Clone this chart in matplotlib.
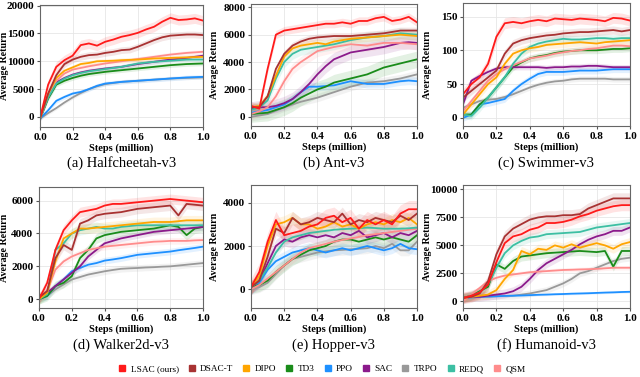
import numpy as np
import matplotlib
matplotlib.use("Agg")
import matplotlib.pyplot as plt
from matplotlib.lines import Line2D

plt.rcParams['font.family'] = ['Liberation Serif', 'DejaVu Serif']

methods = ["LSAC (ours)", "DSAC-T", "DIPO", "TD3", "PPO", "SAC", "TRPO", "REDQ", "QSM"]
colors = ["#ff1a1a", "#a83232", "#ffa500", "#1a8c1a", "#1e90ff", "#8b1a8b", "#999999", "#3cbfa3", "#ff8c8c"]
# drawing order (back to front) - indices into methods
draw_order = [6, 4, 3, 5, 8, 7, 2, 1, 0]

steps = [0.0, 0.05, 0.1, 0.15, 0.2, 0.25, 0.3, 0.35, 0.4, 0.45, 0.5,
         0.55, 0.6, 0.65, 0.7, 0.75, 0.8, 0.85, 0.9, 0.95, 1.0]

titles = ["(a) Halfcheetah-v3", "(b) Ant-v3", "(c) Swimmer-v3",
          "(d) Walker2d-v3", "(e) Hopper-v3", "(f) Humanoid-v3"]

# ---------------- (a) Halfcheetah ----------------
hc_lsac  = [-200, 5800, 9000, 10200, 11000, 12900, 13200, 12800, 13500, 13900, 14400, 14700, 15100, 15700, 16200, 17100, 17800, 17400, 17500, 17700, 17300]
hc_dsact = [-200, 4200, 7500, 9500, 10300, 10800, 11100, 11200, 11500, 11700, 12000, 12100, 12600, 13200, 13800, 14300, 14600, 14700, 14800, 14800, 14700]
hc_dipo  = [-300, 4200, 7000, 8300, 8900, 9500, 9700, 10000, 10050, 10100, 10200, 10250, 10300, 10400, 10500, 10550, 10600, 10650, 10700, 10750, 10800]
hc_td3   = [-300, 3300, 5800, 6500, 7000, 7400, 7700, 7900, 8100, 8250, 8400, 8550, 8700, 8850, 9000, 9150, 9300, 9400, 9500, 9550, 9600]
hc_ppo   = [-300, 1200, 2900, 3600, 4200, 4500, 5000, 5600, 6000, 6150, 6300, 6400, 6500, 6600, 6700, 6800, 6900, 7000, 7100, 7150, 7200]
hc_sac   = [-300, 3600, 6200, 7000, 7600, 8000, 8300, 8500, 8700, 8850, 9000, 9250, 9500, 9700, 9900, 10100, 10300, 10450, 10600, 10800, 11000]
hc_trpo  = [-300, 700, 1600, 2600, 3500, 4300, 5000, 5500, 5900, 6100, 6300, 6400, 6500, 6600, 6700, 6800, 6900, 6950, 7000, 7050, 7100]
hc_redq  = [-300, 3500, 6000, 6900, 7500, 7900, 8200, 8400, 8600, 8800, 9000, 9300, 9600, 9750, 9900, 10000, 10100, 10200, 10300, 10300, 10300]
hc_qsm   = [-300, 3800, 6500, 7800, 8500, 8800, 9100, 9350, 9600, 9800, 10000, 10200, 10400, 10600, 10800, 11000, 11200, 11350, 11500, 11600, 11700]

# ---------------- (b) Ant ----------------
ant_lsac  = [800, 600, 3500, 6000, 6300, 6400, 6500, 6600, 6700, 6800, 6800, 6900, 6800, 7000, 7000, 7200, 7300, 7000, 7100, 7300, 6900]
ant_dsact = [700, 700, 1500, 3500, 4600, 5200, 5500, 5700, 5800, 5850, 5900, 5900, 5900, 5950, 6000, 6050, 6100, 6200, 6300, 6300, 6300]
ant_dipo  = [700, 800, 1500, 3000, 4400, 5000, 5200, 5300, 5400, 5300, 5500, 5600, 5700, 5750, 5800, 5850, 5900, 5950, 6000, 5950, 5900]
ant_td3   = [200, 250, 300, 500, 700, 1000, 1400, 1700, 2000, 2200, 2500, 2650, 2800, 2950, 3100, 3350, 3600, 3750, 3900, 4050, 4200]
ant_ppo   = [300, 400, 500, 700, 900, 1300, 1800, 2200, 2200, 2250, 2300, 2450, 2600, 2500, 2400, 2400, 2400, 2500, 2600, 2650, 2600]
ant_sac   = [600, 700, 700, 800, 1000, 1300, 1800, 2400, 3100, 3700, 4200, 4450, 4700, 4800, 4900, 5000, 5100, 5250, 5400, 5450, 5400]
ant_trpo  = [0, 100, 200, 450, 700, 900, 1100, 1250, 1400, 1600, 1800, 2000, 2200, 2350, 2500, 2550, 2600, 2700, 2800, 2950, 3100]
ant_redq  = [500, 700, 1200, 2800, 4000, 4600, 4900, 5000, 5100, 5200, 5300, 5450, 5600, 5700, 5800, 5850, 5900, 6000, 6100, 6050, 6000]
ant_qsm   = [200, 400, 700, 1500, 2600, 3500, 4000, 4400, 4800, 4950, 5100, 5200, 5300, 5250, 5200, 5300, 5400, 5400, 5400, 5350, 5300]

# ---------------- (c) Swimmer ----------------
sw_lsac  = [35, 50, 60, 80, 120, 140, 142, 140, 143, 145, 143, 147, 146, 145, 147, 146, 145, 143, 148, 147, 144]
sw_dsact = [30, 40, 50, 60, 70, 95, 110, 115, 118, 120, 122, 123, 125, 126, 127, 127, 128, 129, 130, 128, 130]
sw_dipo  = [5, 20, 35, 50, 60, 80, 95, 100, 103, 105, 108, 109, 110, 111, 112, 111, 110, 112, 113, 114, 115]
sw_td3   = [5, 5, 20, 30, 45, 60, 75, 82, 88, 91, 93, 96, 98, 99, 100, 100, 100, 101, 102, 102, 103]
sw_ppo   = [0, 5, 20, 22, 25, 28, 40, 50, 58, 65, 68, 68, 68, 69, 70, 70, 70, 71, 72, 72, 72]
sw_sac   = [20, 55, 62, 68, 73, 75, 75, 75, 75, 75, 74, 75, 75, 76, 76, 77, 77, 76, 75, 75, 75]
sw_trpo  = [15, 20, 25, 27, 28, 31, 35, 40, 45, 49, 52, 54, 55, 57, 58, 58, 58, 58, 57, 57, 57]
sw_redq  = [5, 3, 15, 30, 45, 60, 80, 95, 105, 110, 113, 115, 117, 116, 116, 117, 118, 118, 117, 118, 118]
sw_qsm   = [10, 25, 40, 55, 65, 72, 78, 83, 88, 90, 92, 95, 97, 99, 100, 102, 103, 105, 107, 107, 106]

# ---------------- (d) Walker2d ----------------
wk_lsac  = [0, 1000, 3000, 4200, 4800, 5300, 5400, 5500, 5700, 5800, 5800, 5850, 5900, 5950, 6000, 6050, 6100, 6050, 6000, 5950, 5900]
wk_dsact = [100, 500, 2500, 3300, 3000, 4600, 4800, 5100, 5200, 5250, 5300, 5400, 5500, 5550, 5600, 5650, 5700, 5100, 5800, 5750, 5700]
wk_dipo  = [0, 400, 2300, 3700, 4000, 4300, 4300, 4350, 4400, 4450, 4500, 4550, 4600, 4650, 4700, 4700, 4700, 4750, 4800, 4800, 4800]
wk_td3   = [0, 200, 800, 1000, 1400, 2500, 3000, 3700, 3900, 4000, 4100, 4150, 4200, 4250, 4300, 4400, 4500, 4400, 3900, 4300, 4400]
wk_ppo   = [0, 200, 800, 1200, 1700, 1900, 2100, 2200, 2350, 2420, 2500, 2600, 2700, 2750, 2800, 2850, 2900, 2980, 3050, 3120, 3200]
wk_sac   = [200, 400, 800, 1200, 1600, 2000, 2600, 3000, 3400, 3550, 3700, 3800, 3900, 4000, 4100, 4150, 4200, 4250, 4300, 4350, 4400]
wk_trpo  = [0, 200, 600, 900, 1200, 1350, 1500, 1600, 1700, 1780, 1850, 1880, 1900, 1930, 1950, 1980, 2000, 2050, 2100, 2150, 2200]
wk_redq  = [0, 300, 3000, 3400, 4000, 4200, 4300, 4400, 4300, 4300, 4400, 4450, 4500, 4500, 4500, 4500, 4500, 4500, 4500, 4500, 4500]
wk_qsm   = [0, 500, 1800, 2300, 2600, 2800, 3000, 3100, 3200, 3250, 3300, 3350, 3400, 3450, 3500, 3520, 3550, 3550, 3550, 3580, 3600]

# ---------------- (e) Hopper ----------------
hp_lsac  = [100, 800, 2200, 3200, 2500, 2600, 2700, 2900, 3000, 3300, 3400, 3100, 3300, 2800, 3200, 3000, 3200, 3000, 3500, 3700, 3700]
hp_dsact = [100, 400, 1500, 2800, 2600, 3300, 3000, 3100, 3300, 3200, 3100, 3500, 3000, 3200, 3100, 3300, 3200, 3100, 3400, 3200, 3500]
hp_dipo  = [100, 600, 2000, 3000, 3100, 3300, 3000, 3000, 2800, 2900, 3100, 2900, 3000, 2800, 3000, 3100, 3000, 3200, 3100, 3300, 3000]
hp_td3   = [100, 200, 400, 800, 1100, 1400, 1600, 1800, 1900, 2000, 2200, 2300, 2300, 2200, 2300, 2400, 2300, 2400, 2300, 2200, 2500]
hp_ppo   = [0, 300, 900, 1300, 1500, 1700, 1800, 1900, 1800, 1700, 1800, 1900, 1800, 1900, 2000, 1900, 1800, 1900, 2100, 1900, 1850]
hp_sac   = [100, 400, 1200, 2000, 2300, 2200, 2400, 2500, 2400, 2500, 2400, 2600, 2500, 2700, 2400, 2500, 2600, 2400, 2600, 2500, 2700]
hp_trpo  = [0, 100, 300, 700, 1100, 1400, 1500, 1600, 1700, 1750, 1800, 1820, 1850, 1870, 1900, 2000, 1900, 2100, 1800, 1800, 2200]
hp_redq  = [100, 400, 1000, 1700, 2200, 2400, 2500, 2600, 2650, 2700, 2750, 2780, 2800, 2820, 2850, 2830, 2800, 2800, 2800, 2820, 2850]
hp_qsm   = [0, 200, 500, 800, 1100, 1400, 1700, 1900, 2000, 2100, 2200, 2280, 2350, 2420, 2500, 2550, 2600, 2650, 2700, 2750, 2800]

# ---------------- (f) Humanoid ----------------
hm_lsac  = [300, 500, 800, 1500, 3500, 5200, 5800, 6000, 6400, 6600, 7000, 7000, 7100, 7300, 7600, 7800, 8100, 8300, 8500, 8600, 8600]
hm_dsact = [300, 400, 700, 1800, 4200, 5800, 6500, 6900, 7300, 7500, 7600, 7600, 7700, 7700, 7800, 8300, 8600, 8900, 9200, 9200, 9200]
hm_dipo  = [300, 400, 500, 600, 1000, 2000, 2800, 4500, 4200, 4700, 4600, 5000, 4800, 5100, 4800, 5000, 5200, 5000, 4700, 5100, 5300]
hm_td3   = [300, 500, 900, 1300, 3300, 2900, 3600, 4000, 4100, 4200, 4300, 4350, 4400, 4450, 4500, 4450, 4400, 4500, 3100, 4500, 4500]
hm_ppo   = [300, 350, 400, 420, 450, 480, 500, 520, 550, 580, 600, 630, 650, 680, 700, 720, 750, 780, 800, 830, 850]
hm_sac   = [300, 400, 400, 500, 600, 700, 900, 1300, 2000, 2800, 3400, 3800, 4200, 4600, 5100, 5500, 5800, 6000, 6300, 6300, 6600]
hm_trpo  = [300, 350, 400, 420, 450, 480, 500, 600, 700, 850, 1000, 1300, 1600, 2000, 2500, 2700, 3000, 3300, 3600, 3800, 3900]
hm_redq  = [300, 500, 800, 1500, 3000, 4300, 5000, 5400, 5700, 5800, 6000, 6050, 6100, 6150, 6200, 6400, 6600, 6700, 6800, 6900, 7000]
hm_qsm   = [0, 600, 1200, 1800, 2100, 2300, 2400, 2500, 2600, 2650, 2700, 2750, 2800, 2820, 2850, 2870, 2900, 2950, 3000, 3000, 3000]

data = [
    [hc_lsac, hc_dsact, hc_dipo, hc_td3, hc_ppo, hc_sac, hc_trpo, hc_redq, hc_qsm],
    [ant_lsac, ant_dsact, ant_dipo, ant_td3, ant_ppo, ant_sac, ant_trpo, ant_redq, ant_qsm],
    [sw_lsac, sw_dsact, sw_dipo, sw_td3, sw_ppo, sw_sac, sw_trpo, sw_redq, sw_qsm],
    [wk_lsac, wk_dsact, wk_dipo, wk_td3, wk_ppo, wk_sac, wk_trpo, wk_redq, wk_qsm],
    [hp_lsac, hp_dsact, hp_dipo, hp_td3, hp_ppo, hp_sac, hp_trpo, hp_redq, hp_qsm],
    [hm_lsac, hm_dsact, hm_dipo, hm_td3, hm_ppo, hm_sac, hm_trpo, hm_redq, hm_qsm],
]

# approximate half-width of the shaded bands (per environment, per method)
spread = [
    [900, 600, 400, 400, 400, 400, 300, 400, 400],
    [300, 250, 300, 600, 300, 500, 300, 400, 400],
    [8, 6, 6, 5, 5, 4, 4, 6, 5],
    [300, 300, 300, 300, 200, 200, 200, 300, 200],
    [400, 300, 300, 300, 250, 300, 250, 200, 200],
    [500, 500, 400, 400, 100, 400, 300, 400, 200],
]

yticks = [
    [0, 5000, 10000, 15000, 20000],
    [0, 2000, 4000, 6000, 8000],
    [0, 50, 100, 150],
    [0, 2000, 4000, 6000],
    [0, 2000, 4000],
    [0, 2500, 5000, 7500, 10000],
]
ylims = [(-1800, 20100), (-670, 8240), (-12, 170), (-535, 6830), (-865, 4820), (-600, 10400)]

W, H = 640, 377
fig = plt.figure(figsize=(W / 100, H / 100), dpi=100)

# axes boxes in pixel coords (left, top, right, bottom)
boxes = [
    (40, 5, 203, 127), (251, 4, 417, 126), (463, 3, 630, 126),
    (39, 187, 203, 308), (251, 185, 417, 308), (463, 185, 630, 308),
]
ylabel_x = [9, 219, 432, 9, 219, 432]     # right edge of rotated y label (px)
title_y = [163, 163, 163, 345, 345, 345]  # title centre (px)

for k, (l, t, r, b) in enumerate(boxes):
    ax = fig.add_axes([l / W, 1 - b / H, (r - l) / W, (b - t) / H])
    for i in draw_order:
        y = np.array(data[k][i], dtype=float)
        s = spread[k][i]
        ax.fill_between(steps, y - s, y + s, color=colors[i], alpha=0.12, lw=0)
    for i in draw_order:
        ax.plot(steps, data[k][i], color=colors[i], lw=1.3)
    ax.set_xlim(0, 1.0)
    ax.set_ylim(*ylims[k])
    ax.set_xticks([0.0, 0.2, 0.4, 0.6, 0.8, 1.0])
    ax.set_xticklabels(["0.0", "0.2", "0.4", "0.6", "0.8", "1.0"])
    ax.set_yticks(yticks[k])
    ax.tick_params(labelsize=8, length=2.5, width=0.8, pad=1.5, color="#555555")
    for lab in ax.get_xticklabels() + ax.get_yticklabels():
        lab.set_fontweight("bold")
    ax.grid(True, color="#e6e6e6", lw=0.6)
    ax.set_axisbelow(True)
    for sp in ax.spines.values():
        sp.set_color("#666666")
        sp.set_linewidth(0.8)
    ax.set_xlabel("Steps (million)", fontsize=7.5, fontweight="bold", labelpad=1)
    ax.set_ylabel("Average Return", fontsize=7.2, fontweight="bold")
    ax.yaxis.set_label_coords((ylabel_x[k] - l) / (r - l), 0.5)
    fig.text((l + r) / 2 / W, 1 - title_y[k] / H, titles[k], ha="center", va="center", fontsize=10.5)

handles = [Line2D([0], [0], marker="s", color="w", markerfacecolor=c, markeredgecolor=c,
                  markersize=4, lw=0) for c in colors]
fig.legend(handles, methods, loc="center", bbox_to_anchor=(322 / W, 1 - 369 / H), ncol=9,
           frameon=False, fontsize=6.7, handlelength=0.8, handletextpad=0.5, columnspacing=1.0,
           borderaxespad=0, borderpad=0)

fig.savefig("out.png", dpi=100)
